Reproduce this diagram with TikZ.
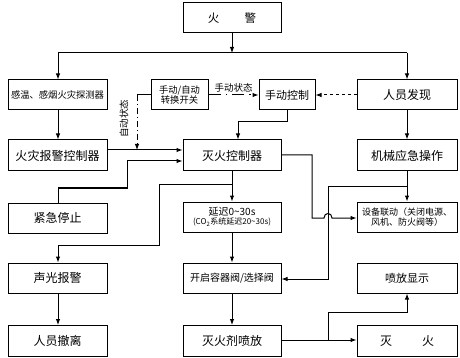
\documentclass[tikz,border=0pt]{standalone}
\usepackage{fontspec}
\newfontfamily\cjk{Noto Sans CJK SC}
\usetikzlibrary{arrows.meta}
\begin{document}
\begin{tikzpicture}[x=1pt,y=-1pt,
  box/.style={draw, line width=1pt, inner sep=1pt, align=center, font=\cjk\fontsize{11.5}{13}\selectfont},
  lw/.style={minimum width=99pt},
  cw/.style={minimum width=98pt},
  rw/.style={minimum width=100pt},
  h30/.style={minimum height=30pt},
  h31/.style={minimum height=31pt},
  arr/.style={-{Latex[length=6pt,width=4.5pt]}, line width=1pt},
  ln/.style={line width=1pt},
  lbl/.style={font=\cjk\fontsize{9.5}{11}\selectfont, inner sep=1pt}]
\useasboundingbox (0,0) rectangle (460,358);

% boxes
\node[box, cw, h30] (hj) at (232,18) {火\hspace{2.2em}警};
\node[box, lw, h30, font=\cjk\fontsize{9.3}{11}\selectfont] (tcq) at (57.5,95) {感温、感烟火灾探测器};
\node[box, minimum width=57pt, h30, font=\cjk\fontsize{9.3}{11}\selectfont] (zh) at (179.5,95) {手动/自动\\[-1pt]转换开关};
\node[box, minimum width=56pt, h30, font=\cjk\fontsize{11}{13}\selectfont] (sd) at (287,95) {手动控制};
\node[box, rw, h30, font=\cjk\fontsize{12}{14}\selectfont] (ryfx) at (407,95) {人员发现};

\node[box, lw, h31, font=\cjk\fontsize{12}{14}\selectfont] (bjk) at (57.5,155.5) {火灾报警控制器};
\node[box, cw, h31, font=\cjk\fontsize{12}{14}\selectfont] (mhk) at (232,155.5) {灭火控制器};
\node[box, rw, h31, font=\cjk\fontsize{12}{14}\selectfont] (jx) at (407,155.5) {机械应急操作};

\node[box, lw, h30, font=\cjk\fontsize{12}{14}\selectfont] (jj) at (57.5,218) {紧急停止};
\node[box, cw, h30, font=\cjk\fontsize{10}{11}\selectfont] (yc) at (232,217) {延迟0\textasciitilde30s\\[-2pt]{\fontsize{8}{9}\selectfont (CO\textsubscript{2}系统延迟20\textasciitilde30s)}};
\node[box, rw, h30, font=\cjk\fontsize{9}{11}\selectfont] (sb) at (407,217) {设备联动（关闭电源、\\[-1pt]风机、防火阀等）};

\node[box, lw, h30, font=\cjk\fontsize{12}{14}\selectfont] (sg) at (57.5,278) {声光报警};
\node[box, cw, h30, font=\cjk\fontsize{10}{12}\selectfont] (kq) at (232,278) {开启容器阀/选择阀};
\node[box, rw, h30, font=\cjk\fontsize{11}{13}\selectfont] (pfxs) at (407,278) {喷放显示};

\node[box, lw, h31, font=\cjk\fontsize{12}{14}\selectfont] (rycl) at (57.5,341) {人员撤离};
\node[box, cw, h31, font=\cjk\fontsize{12}{14}\selectfont] (mhj) at (232,341) {灭火剂喷放};
\node[box, rw, h31, font=\cjk\fontsize{12}{14}\selectfont] (mh) at (407,341) {灭\hspace{2.5em}火};

% junction coordinates
\coordinate (top) at (232,53);
\coordinate (auto) at (137,95);
\coordinate (cA) at (238,122);
\coordinate (cB) at (287,122);
\coordinate (jx1) at (407,187);
\coordinate (mv) at (328,187);
\coordinate (d1) at (232,185);

% connectors
\draw[arr] (hj) -- (top);
\draw[ln] (58,53) -- (407,53);
\draw[arr] (58,53) -- (tcq.north -| 58,0);
\draw[arr] (407,53) -- (ryfx);
\draw[arr] (tcq.south -| 58,0) -- (bjk.north -| 58,0);

\draw[arr, dash pattern=on 12pt off 5pt on 1.5pt off 5pt] (zh.east) -- node[lbl, above=1pt] {手动状态} (sd.west);
\draw[arr, dash pattern=on 3pt off 3pt] (ryfx.west) -- (sd.east);

\draw[ln] (zh.west) -- (auto);
\draw[arr, dash pattern=on 6pt off 3pt on 1pt off 3pt] (auto) -- (137,150);
\node[lbl, rotate=90] (zdzt) at (124,119) {自动状态};

\draw[arr] (bjk.east |- 0,150) -- (mhk.west |- 0,150);
\draw[arr] (jj.north -| 58,0) -- (58,188) -- (127,188) -- (127,161) -- (mhk.west |- 0,161);
\draw[arr] (sd.south) -- (cB) -- (cA) -- (mhk.north -| cA);
\draw[arr] (ryfx) -- (jx);

\draw[arr] (mhk.east |- 0,155) -- (312,155) -- (312,218) -- (324,218)
  .. controls (324,212) and (332,212) .. (332,218) -- (sb.west |- 0,218);
\draw[arr] (jx) -- (sb);
\draw[arr] (jx1) -- (mv) -- (328,279) -- (kq.east |- 0,279);

\draw[arr] (mhk) -- (yc);
\draw[arr] (d1) -- (159,185) -- (159,245) -- (58,245) -- (sg.north -| 58,0);
\draw[arr] (yc) -- (kq);
\draw[arr] (sg.south -| 58,0) -- (rycl.north -| 58,0);
\draw[arr] (kq) -- (mhj);
\draw[arr] (mhj.east |- 0,340) -- (mh.west |- 0,340);
\draw[arr] (328,340) -- (328,312) -- (407,312) -- (pfxs.south);
\end{tikzpicture}
\end{document}
